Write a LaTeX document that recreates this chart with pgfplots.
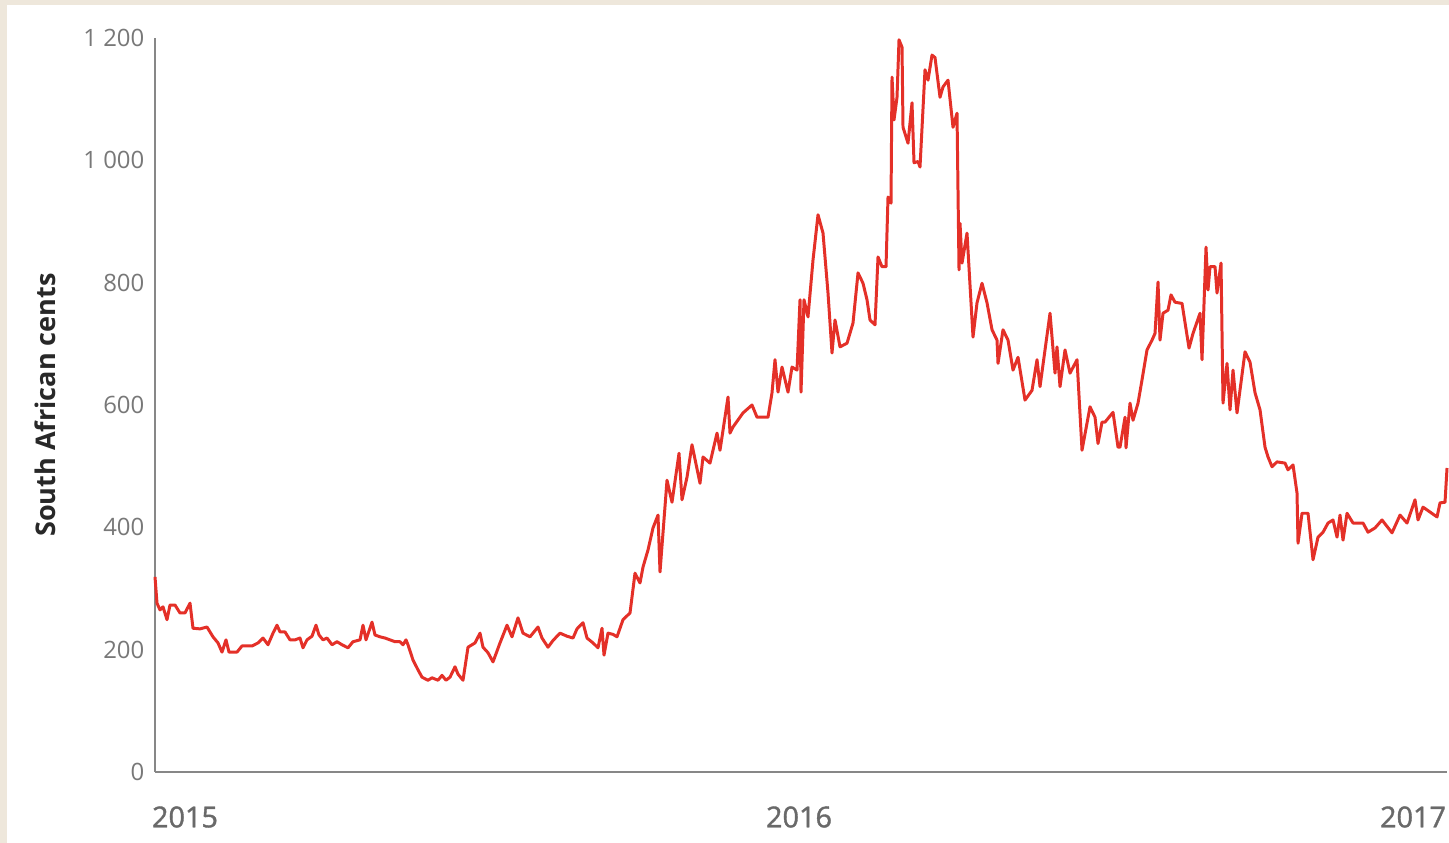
\documentclass[border=0pt]{standalone}
\usepackage{pgfplots}
\pgfplotsset{compat=1.18}
\usepackage{fontspec}
\setmainfont{Open Sans}
\newfontfamily\semib[FakeBold=1.3]{Open Sans}
\definecolor{beige}{RGB}{238,231,219}
\definecolor{linered}{RGB}{228,48,40}
\definecolor{tickgrey}{RGB}{120,120,120}
\definecolor{xgrey}{RGB}{105,105,105}
\definecolor{axisgrey}{RGB}{135,135,135}
\definecolor{labeldark}{RGB}{40,40,40}
\begin{document}
\begin{tikzpicture}
\fill[white] (0,0) rectangle (144.9mm,84.3mm);
\fill[beige] (0,0) rectangle (0.7mm,84.3mm);
\fill[beige] (0,83.8mm) rectangle (144.9mm,84.3mm);
\useasboundingbox (0,0) rectangle (144.9mm,84.3mm);
\begin{axis}[
  at={(15.5mm,7.1mm)}, anchor=south west,
  x=0.1mm, y=0.06117mm,
  xmin=155, xmax=1447, ymin=0, ymax=1200,
  axis x line=bottom, axis y line=left,
  axis line style={-, axisgrey, line width=0.6pt},
  major tick length=0pt,
  xtick={185,799,1413}, xticklabels={2015,2016,2017},
  ytick={0,200,400,600,800,1000,1200},
  yticklabels={0,200,400,600,800,1 000,1 200},
  /pgf/number format/assume math mode=true,
  xticklabel style={font=\fontsize{8.2}{9}\selectfont\semib, text=xgrey, anchor=center, yshift=-4.5mm},
  yticklabel style={font=\fontsize{6.8}{8}\selectfont, text=tickgrey, anchor=east, inner sep=0pt, xshift=-1mm},
  ylabel={South African cents},
  ylabel style={font=\fontsize{7.7}{9}\selectfont\bfseries, text=labeldark, at={(axis description cs:-0.085,0.5)}, anchor=center},
  clip=false,
]
\addplot[linered, line width=0.85pt, line join=round, mark=none] coordinates {
(155,319) (157,276) (160,265) (163,270) (167,249) (170,273) (175,273) (180,260) (185,260) (190,276)
(193,235) (200,234) (207,237) (213,221) (218,211) (222,196) (226,216) (229,196) (237,196) (242,206)
(252,206) (258,211) (263,219) (268,208) (273,227) (277,240) (280,229) (285,229) (290,216) (295,216)
(300,219) (303,203) (307,216) (312,222) (316,240) (319,224) (323,216) (327,219) (332,208) (337,213)
(342,208) (348,203) (353,213) (360,216) (363,240) (366,216) (372,245) (375,224) (380,221) (385,219)
(390,216) (395,213) (400,213) (403,208) (406,216) (408,208) (413,183) (418,167) (422,155) (428,150)
(432,154) (438,150) (442,158) (446,150) (450,155) (455,172) (458,160) (463,150) (468,204) (475,211)
(480,227) (483,204) (488,195) (493,180) (500,211) (507,240) (512,221) (518,252) (523,227) (530,221)
(538,237) (542,219) (548,204) (553,215) (560,227) (567,222) (573,219) (577,234) (583,244) (587,219)
(593,211) (598,203) (602,235) (604,191) (608,227) (613,225) (617,221) (623,249) (630,260) (635,325)
(640,309) (643,335) (648,363) (653,399) (658,420) (660,327) (667,477) (672,441) (679,521) (682,445)
(687,482) (692,535) (700,472) (703,515) (710,505) (717,554) (720,526) (728,613) (730,554) (733,564)
(743,587) (752,600) (757,580) (768,580) (772,620) (775,674) (778,621) (782,662) (788,621) (792,662)
(797,657) (800,772) (801,621) (804,772) (808,744) (813,837) (818,911) (823,881) (828,783) (832,685)
(835,739) (840,695) (847,701) (853,734) (858,816) (863,799) (867,772) (870,739) (875,731) (878,842)
(882,826) (886,826) (888,940) (891,930) (892,1136) (894,1066) (897,1103) (899,1197) (902,1185) (903,1054)
(908,1028) (912,1094) (914,996) (918,998) (920,989) (925,1148) (928,1131) (932,1172) (935,1168) (940,1103)
(943,1120) (948,1131) (953,1054) (957,1077) (959,821) (960,897) (962,832) (967,881) (973,711) (977,767)
(982,799) (987,767) (992,723) (997,706) (998,668) (1003,723) (1008,706) (1013,657) (1018,678) (1025,608)
(1032,624) (1037,674) (1040,630) (1050,750) (1055,652) (1057,695) (1060,630) (1065,690) (1070,652) (1077,674)
(1082,526) (1090,597) (1095,580) (1098,537) (1102,572) (1105,572) (1113,588) (1118,531) (1120,531) (1125,580)
(1126,530) (1130,603) (1133,575) (1138,603) (1142,641) (1147,690) (1152,706) (1155,717) (1158,801) (1160,706)
(1163,750) (1168,755) (1171,780) (1175,768) (1182,766) (1189,693) (1193,717) (1200,750) (1202,674) (1206,858)
(1208,788) (1210,826) (1215,826) (1217,783) (1221,832) (1223,603) (1227,668) (1230,592) (1233,657) (1237,587)
(1245,687) (1250,670) (1255,620) (1260,592) (1265,531) (1268,515) (1272,499) (1277,507) (1285,505) (1288,494)
(1293,502) (1297,456) (1298,374) (1302,423) (1308,423) (1313,347) (1318,384) (1323,392) (1328,407) (1333,412)
(1337,384) (1340,420) (1343,379) (1347,423) (1353,407) (1363,407) (1368,392) (1375,399) (1382,412) (1392,391)
(1400,420) (1407,407) (1415,445) (1418,412) (1423,433) (1430,425) (1437,417) (1440,440) (1445,441) (1447,497)
};
\end{axis}
\end{tikzpicture}
\end{document}
